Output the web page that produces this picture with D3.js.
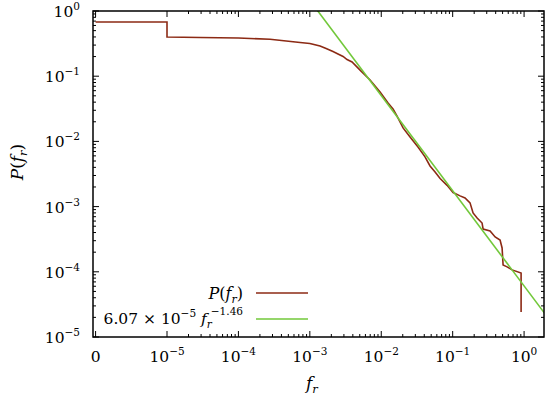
<!DOCTYPE html>
<html>
<head>
<meta charset="utf-8">
<script src="https://cdn.jsdelivr.net/npm/d3@7"></script>
<style>
  html, body { margin: 0; padding: 0; background: #fff; }
  svg { display: block; }
  text { font-family: 'DejaVu Serif', 'Liberation Serif', 'Noto Serif', serif; }
</style>
</head>
<body>
<svg id="chart" width="550" height="399"></svg>
<script>
// ---- data ----
const freq = [1e-6, 1e-5, 1e-5, 2.9e-5, 1e-4, 2.77e-4, 7.3e-4, 1.0e-3, 1.39e-3, 1.69e-3, 2.11e-3,
  2.48e-3, 2.92e-3, 3.32e-3, 3.9e-3,
  5.05e-3, 6.97e-3, 9.62e-3, 0.01245, 0.01462, 0.01664, 0.0202, 0.0253, 0.0327, 0.041, 0.0482,
  0.0567, 0.0667, 0.0835, 0.1014, 0.127, 0.149, 0.175, 0.193, 0.22, 0.258, 0.267, 0.334, 0.393,
  0.461, 0.492, 0.508, 0.578, 0.679, 0.908, 0.908];
const prob = [0.678, 0.678, 0.399, 0.392, 0.385, 0.368, 0.329, 0.317, 0.29, 0.266, 0.239,
  0.219, 0.201, 0.18, 0.165,
  0.124, 0.0874, 0.0573, 0.0388, 0.0314, 0.0245, 0.0161, 0.01168, 0.0082, 0.0058, 0.0042,
  0.0034, 0.0027, 0.00212, 0.00164, 0.00146, 0.00136, 0.00114, 0.000798, 0.000669, 0.00056, 0.000453, 0.000422, 0.000342,
  0.000307, 0.000232, 0.000127, 0.000119, 0.000107, 0.0000959, 0.0000242];
const fitCoef = 6.07e-5;
const fitExp = -1.46;
const fitRange = [1e-4, 2];
const xTickValues = [1e-6, 1e-5, 1e-4, 1e-3, 1e-2, 1e-1, 1];
const xTickExps = [null, "−5", "−4", "−3", "−2", "−1", "0"];
const yTickValues = [1e-5, 1e-4, 1e-3, 1e-2, 1e-1, 1];
const yTickExps = ["−5", "−4", "−3", "−2", "−1", "0"];

// ---- layout ----
const L = 93, R = 544, T = 11, B = 337;
const FONT = "'DejaVu Serif', 'Liberation Serif', 'Noto Serif', serif";
const svg = d3.select("#chart").attr("font-family", FONT);
const x = d3.scaleLog().domain([9.2e-7, 1.9]).range([L, R]);
const y = d3.scaleLog().domain([1e-5, 1]).range([B, T]);
const brown = "#8c2a14", green = "#72c83a";

svg.append("defs").append("clipPath").attr("id", "clip")
  .append("rect").attr("x", L).attr("y", T).attr("width", R - L).attr("height", B - T);

// minor ticks
const xMinor = [];
for (let e = -5; e <= 0; e++) for (let k = 2; k <= 9; k++) {
  const v = k * Math.pow(10, e);
  if (v <= x.domain()[1]) xMinor.push(v);
}
const yMinor = [];
for (let e = -5; e < 0; e++) for (let k = 2; k <= 9; k++) yMinor.push(k * Math.pow(10, e));

const tk = svg.append("g").attr("stroke", "#000").attr("stroke-width", 1);
xTickValues.forEach(v => {
  const px = x(v);
  tk.append("line").attr("x1", px).attr("x2", px).attr("y1", B).attr("y2", B - 6);
  tk.append("line").attr("x1", px).attr("x2", px).attr("y1", T).attr("y2", T + 6);
});
xMinor.forEach(v => {
  const px = x(v);
  tk.append("line").attr("x1", px).attr("x2", px).attr("y1", B).attr("y2", B - 3);
  tk.append("line").attr("x1", px).attr("x2", px).attr("y1", T).attr("y2", T + 3);
});
yTickValues.forEach(v => {
  const py = y(v);
  tk.append("line").attr("x1", L).attr("x2", L + 6).attr("y1", py).attr("y2", py);
  tk.append("line").attr("x1", R).attr("x2", R - 6).attr("y1", py).attr("y2", py);
});
yMinor.forEach(v => {
  const py = y(v);
  tk.append("line").attr("x1", L).attr("x2", L + 3).attr("y1", py).attr("y2", py);
  tk.append("line").attr("x1", R).attr("x2", R - 3).attr("y1", py).attr("y2", py);
});

// data line
const line = d3.line().x(d => x(d[0])).y(d => y(d[1]));
svg.append("path").datum(freq.map((f, i) => [f, prob[i]]))
  .attr("clip-path", "url(#clip)")
  .attr("fill", "none").attr("stroke", brown).attr("stroke-width", 1.6)
  .attr("d", line);

// fit line
svg.append("path").datum(fitRange.map(f => [f, fitCoef * Math.pow(f, fitExp)]))
  .attr("clip-path", "url(#clip)")
  .attr("fill", "none").attr("stroke", green).attr("stroke-width", 1.6)
  .attr("d", line);

// frame
svg.append("rect").attr("x", L).attr("y", T).attr("width", R - L).attr("height", B - T)
  .attr("fill", "none").attr("stroke", "#000").attr("stroke-width", 1.5);

// tick labels
const fs = 15.5, sfs = 10.5;
xTickValues.forEach((v, i) => {
  const t = svg.append("text").attr("x", x(v)).attr("y", 362).attr("text-anchor", "middle")
    .attr("font-size", fs).attr("font-family", FONT);
  if (xTickExps[i] === null) { t.text("0"); return; }
  t.append("tspan").text("10");
  t.append("tspan").attr("font-size", sfs).attr("dy", -7).text(xTickExps[i]);
});
yTickValues.forEach((v, i) => {
  const t = svg.append("text").attr("x", 80).attr("y", y(v) + 6).attr("text-anchor", "end")
    .attr("font-size", fs).attr("font-family", FONT);
  t.append("tspan").text("10");
  t.append("tspan").attr("font-size", sfs).attr("dy", -7).text(yTickExps[i]);
});

// axis titles
const xt = svg.append("text").attr("x", 306).attr("y", 389).attr("font-size", 17).attr("font-family", FONT);
xt.append("tspan").attr("font-style", "italic").text("f");
xt.append("tspan").attr("font-style", "italic").attr("font-size", 11.5).attr("dy", 4).text("r");

const yt = svg.append("text").attr("transform", "translate(23,162) rotate(-90)")
  .attr("text-anchor", "middle").attr("font-size", 17).attr("font-family", FONT);
yt.append("tspan").attr("font-style", "italic").text("P");
yt.append("tspan").text("(");
yt.append("tspan").attr("font-style", "italic").text("f");
yt.append("tspan").attr("font-style", "italic").attr("font-size", 11.5).attr("dy", 4).text("r");
yt.append("tspan").attr("dy", -4).text(")");

// legend
const l1 = svg.append("text").attr("x", 243).attr("y", 299).attr("text-anchor", "end")
  .attr("font-size", 16).attr("font-family", FONT);
l1.append("tspan").attr("font-style", "italic").text("P");
l1.append("tspan").text("(");
l1.append("tspan").attr("font-style", "italic").text("f");
l1.append("tspan").attr("font-style", "italic").attr("font-size", 11).attr("dy", 4).text("r");
l1.append("tspan").attr("dy", -4).text(")");
svg.append("line").attr("x1", 256).attr("x2", 308).attr("y1", 293).attr("y2", 293)
  .attr("stroke", brown).attr("stroke-width", 1.6);

const l2 = svg.append("text").attr("x", 243).attr("y", 324).attr("text-anchor", "end")
  .attr("font-size", fs).attr("font-family", FONT);
l2.append("tspan").text("6.07 × 10");
l2.append("tspan").attr("font-size", sfs).attr("dy", -7).text("−5");
l2.append("tspan").attr("dy", 7).text(" ");
l2.append("tspan").attr("font-style", "italic").text("f");
l2.append("tspan").attr("font-style", "italic").attr("font-size", sfs).attr("dy", 4).text("r");
l2.append("tspan").attr("font-size", sfs).attr("dx", -1).attr("dy", -13).text("−1.46");
svg.append("line").attr("x1", 256).attr("x2", 308).attr("y1", 319).attr("y2", 319)
  .attr("stroke", green).attr("stroke-width", 1.6);
</script>
</body>
</html>
